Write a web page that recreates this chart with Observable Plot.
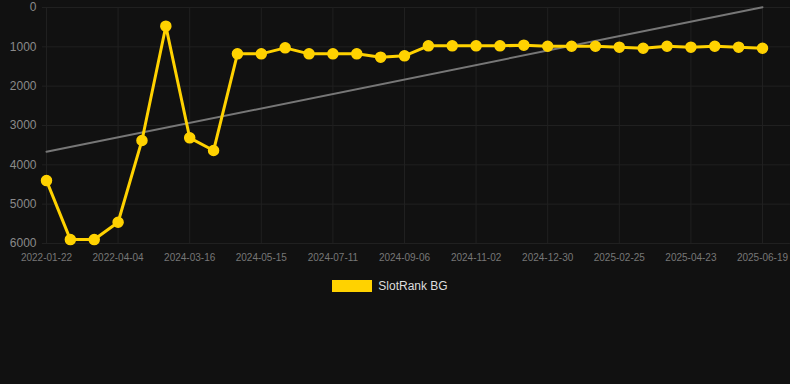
<!DOCTYPE html>
<html>
<head>
<meta charset="utf-8">
<script src="https://cdn.jsdelivr.net/npm/d3@7"></script>
<script src="https://cdn.jsdelivr.net/npm/@observablehq/plot@0.6"></script>
<style>
  html, body { margin: 0; padding: 0; background: #111111; }
  body { width: 790px; height: 384px; overflow: hidden; font-family: "Liberation Sans", Arial, sans-serif; }
  #legend { display: flex; justify-content: center; align-items: center; margin-top: 9px; padding-right: 10px; }
  #legend .sw { width: 40px; height: 12px; background: #FFD200; margin-right: 6px; }
  #legend .lb { color: #dddddd; font-size: 12px; }
</style>
</head>
<body>
<div id="chart"></div>
<div id="legend"><div class="sw"></div><div class="lb">SlotRank BG</div></div>
<script>
const dates = [
  "2022-01-22","2022-02-15","2022-03-11","2022-04-04","2022-04-28","2022-05-22",
  "2024-03-16","2024-04-05","2024-04-25","2024-05-15","2024-06-03","2024-06-22",
  "2024-07-11","2024-07-30","2024-08-18","2024-09-06","2024-09-25","2024-10-14",
  "2024-11-02","2024-11-21","2024-12-10","2024-12-30","2025-01-18","2025-02-06",
  "2025-02-25","2025-03-16","2025-04-04","2025-04-23","2025-05-12","2025-05-31",
  "2025-06-19"
];
const ranks = [
  4400, 5900, 5900, 5460, 3380, 475,
  3313, 3636, 1178, 1178, 1026, 1178,
  1178, 1178, 1263, 1229, 975, 975,
  975, 975, 958, 984, 984, 984,
  1009, 1035, 984, 1009, 984, 1009,
  1035
];
const seriesName = "SlotRank BG";
const yTicks = [0, 1000, 2000, 3000, 4000, 5000, 6000];
const xTickIdx = d3.range(0, dates.length, 3);

const data = dates.map((d, i) => ({i, date: d, rank: ranks[i]}));

const gridColor = "#202020";
const lineColor = "#FFD200";

const chart = Plot.plot({
  width: 790,
  height: 270,
  marginTop: 7,
  marginBottom: 27,
  marginLeft: 46,
  marginRight: 28,
  style: {background: "#111111", fontFamily: "Liberation Sans, Arial, sans-serif"},
  x: {type: "linear", domain: [0, dates.length - 1]},
  y: {domain: [0, 6000], reverse: true},
  marks: [
    Plot.ruleY(yTicks, {x1: -0.17, x2: dates.length - 1 + 1.17, stroke: gridColor, strokeWidth: 1}),
    Plot.ruleX(xTickIdx, {y1: 0, y2: 6000, stroke: gridColor, strokeWidth: 1}),
    Plot.axisY({ticks: yTicks, tickFormat: d => String(d), tickSize: 0, tickPadding: 10, fontSize: 12, color: "#8a8a8a", label: null}),
    Plot.axisX({ticks: xTickIdx, tickFormat: i => dates[i], tickSize: 0, tickPadding: 10, fontSize: 10, color: "#777777", label: null}),
    Plot.linearRegressionY(data, {x: "i", y: "rank", stroke: "#777777", strokeWidth: 2, ci: 0}),
    Plot.line(data, {x: "i", y: "rank", stroke: lineColor, strokeWidth: 3, strokeLinejoin: "round"}),
    Plot.dot(data, {x: "i", y: "rank", r: 5, fill: lineColor, stroke: lineColor, title: d => `${seriesName} ${d.date}: ${d.rank}`})
  ]
});
document.getElementById("chart").appendChild(chart);
</script>
</body>
</html>
